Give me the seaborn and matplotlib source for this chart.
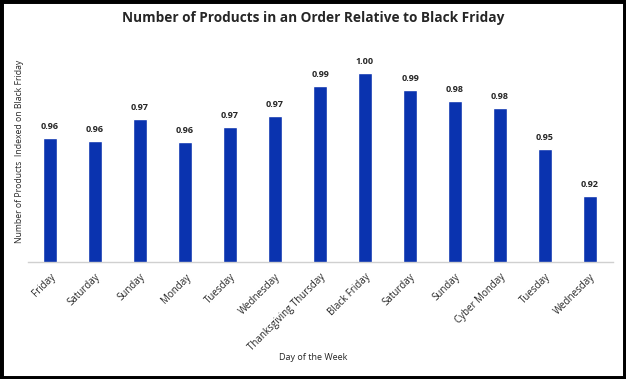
"""Number of products in an order, indexed on Black Friday."""

import matplotlib

matplotlib.use("Agg")
import matplotlib.pyplot as plt
import pandas as pd
import seaborn as sns
from matplotlib.patches import Rectangle

DAYS = [
    "Friday", "Saturday", "Sunday", "Monday", "Tuesday", "Wednesday",
    "Thanksgiving Thursday", "Black Friday", "Saturday", "Sunday",
    "Cyber Monday", "Tuesday", "Wednesday",
]
INDEX = [
    0.959, 0.957, 0.971, 0.956, 0.966, 0.973,
    0.992, 1.000, 0.989, 0.982, 0.978, 0.952, 0.922,
]
BAR_COLOR = "#0A33AF"

df = pd.DataFrame({"pos": range(len(DAYS)), "day": DAYS, "index": INDEX})

sns.set_style("white")
plt.rcParams["font.family"] = ["Open Sans", "DejaVu Sans"]

fig = plt.figure(figsize=(6.26, 3.79), dpi=100)
ax = fig.add_axes([27.5 / 626, 117 / 379, 585 / 626, 212 / 379])

sns.barplot(df, x="pos", y="index", color=BAR_COLOR, width=0.31,
            saturation=1, ax=ax)

ax.set_ylim(0.88, 1.0146)
ax.set_xlim(-0.5, len(DAYS) - 0.5)
ax.set_yticks([])
ax.set_xticks(range(len(DAYS)))
ax.set_xticklabels(DAYS, rotation=45, ha="right", rotation_mode="anchor",
                   fontsize=7)
ax.tick_params(axis="x", length=0, pad=7)

for p, v in zip(ax.patches, INDEX):
    ax.annotate(f"{v:.2f}", (p.get_x() + p.get_width() / 2, p.get_height()),
                xytext=(0, 5), textcoords="offset points", ha="center",
                va="bottom", fontsize=6.5, fontweight="bold")

for side in ("top", "right", "left"):
    ax.spines[side].set_visible(False)
ax.spines["bottom"].set_color("#d0d0d0")
ax.spines["bottom"].set_linewidth(1)

ax.set_xlabel("")
ax.set_ylabel("")
fig.text(0.5, 0.953, "Number of Products in an Order Relative to Black Friday",
         ha="center", va="center", fontsize=9.8, fontweight="bold")
fig.text(20 / 626, 1 - 151 / 379, "Number of Products  Indexed on Black Friday",
         rotation=90, ha="center", va="center", fontsize=6.2)
fig.text(0.5, 1 - 357 / 379, "Day of the Week", ha="center", va="center",
         fontsize=6.5)

fig.patches.append(Rectangle((0, 0), 1, 1, transform=fig.transFigure,
                             fill=False, edgecolor="black", linewidth=5))

fig.savefig("out.png", dpi=100)
